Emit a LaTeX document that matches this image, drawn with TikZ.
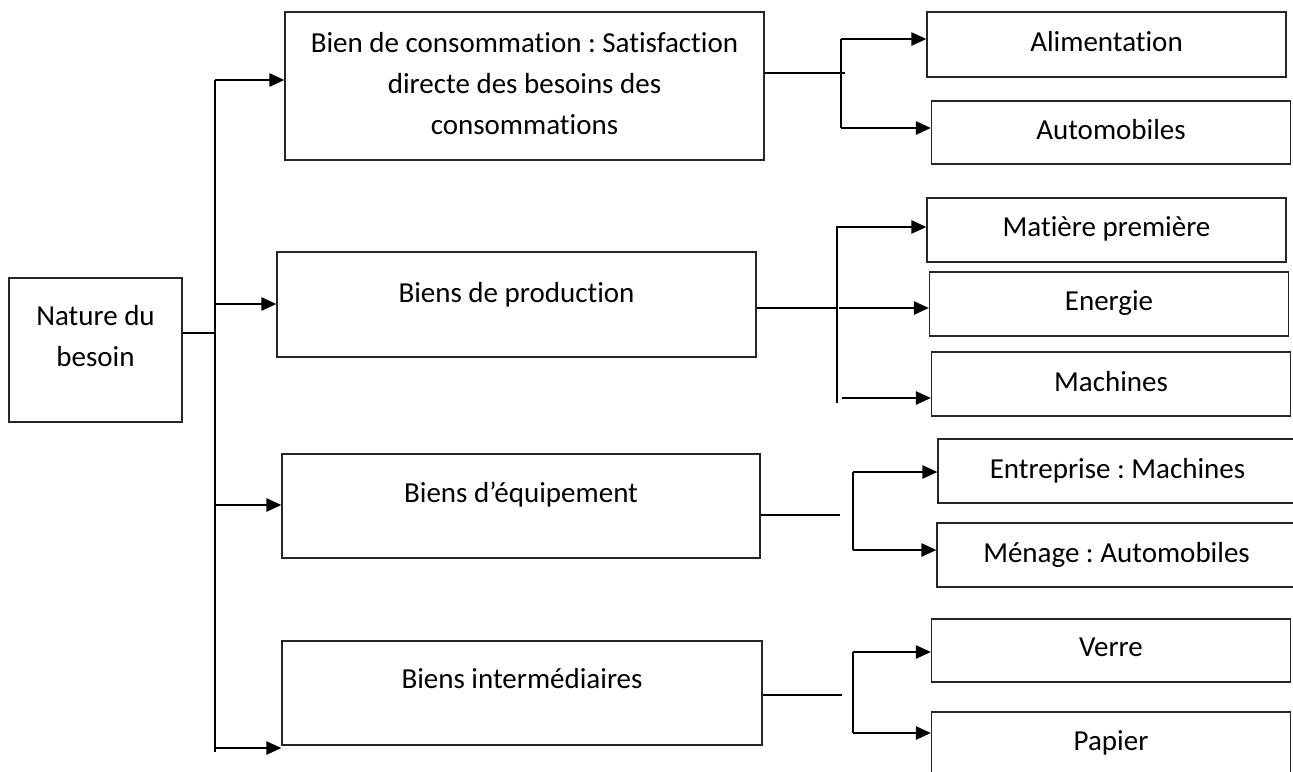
\documentclass[tikz,border=0pt]{standalone}
\usepackage{fontspec}
\setmainfont{Carlito}[Ligatures=NoCommon]
\usepackage{tikz}
\usetikzlibrary{arrows.meta, positioning}
\frenchspacing
\tikzset{
    box/.style = {
        rectangle,
        draw=black!85,
        line width=0.7pt,
        align=center,
        inner sep=2pt,
        font=\fontsize{16.5}{23.5}\selectfont
    },
    sub/.style = {
        box,
        minimum width=7.18cm,
        minimum height=1.28cm,
        text depth=0.12cm
    },
    line/.style = {
        draw,
        line width=1pt
    },
    arr/.style = {
        draw,
        line width=1.4pt,
        -{Triangle[length=0.3cm, width=0.26cm]}
    }
}

\begin{document}
\begin{tikzpicture}[
    x=0.02cm, y=-0.02cm
]
\useasboundingbox (0,0) rectangle (1293,771);
\clip (0,0) rectangle (1293,771);

% Main node
\node [box, minimum width=3.46cm, minimum height=2.88cm, text depth=0.56cm] (nat) at (95.5,350) {Nature du\\besoin};

% Goods
\node [box, minimum width=9.58cm, minimum height=2.96cm, text depth=0.1cm] (cons) at (524.5,86) {Bien de consommation : Satisfaction\\directe des besoins des\\consommations};
\node [box, minimum width=9.58cm, minimum height=2.1cm, text depth=0.5cm] (prod) at (516.5,304.5) {Biens de production};
\node [box, minimum width=9.56cm, minimum height=2.08cm, text depth=0.56cm] (equip) at (521,506) {Biens d’équipement};
\node [box, minimum width=9.6cm, minimum height=2.08cm, text depth=0.6cm] (inter) at (522,693) {Biens intermédiaires};

% Trunk
\coordinate (t1) at (215,80);
\coordinate (t2) at (215,304);
\coordinate (t3) at (215,505);
\coordinate (t4) at (215,748);
\draw [line] ([yshift=0.34cm]nat.east) -- ++(31,0);
\draw [line, line width=1.4pt] (t1) -- ([yshift=-0.08cm]t4);
\draw [arr] (t1) -- (t1 -| cons.west);
\draw [arr] (t2) -- (t2 -| prod.west);
\draw [arr] (t3) -- (t3 -| equip.west);
\draw [arr] (t4) -- (t4 -| inter.west);

% Consumption branch
\node [sub, minimum height=1.3cm] (alim) at (1106.5,44.5) {Alimentation};
\node [sub, minimum height=1.26cm] (auto) at (1111,132.5) {Automobiles};
\coordinate (c1) at (841,39);
\coordinate (c2) at (841,128);
\draw [line] ([yshift=0.26cm]cons.east) -- ++(80,0);
\draw [line, line width=1.4pt] (c1) -- (c2);
\draw [arr] (c1) -- (c1 -| alim.west);
\draw [arr] (c2) -- (c2 -| auto.west);

% Production branch
\node [sub] (mat) at (1106.5,230) {Matière première};
\node [sub] (ener) at (1109,304) {Energie};
\node [sub] (mach) at (1111,384) {Machines};
\coordinate (p1) at (837,227);
\coordinate (p2) at (837,308);
\coordinate (p3) at (837,398);
\draw [line] (prod.east |- p2) -- (p2);
\draw [line, line width=1.4pt] ([yshift=0.02cm]p1) -- ([yshift=-0.1cm]p3);
\draw [arr] (p1) -- (p1 -| mat.west);
\draw [arr] ([xshift=0.04cm]p2) -- (p2 -| ener.west);
\draw [arr] ([xshift=0.1cm]p3) -- (p3 -| mach.west);

% Equipment branch
\node [sub] (entr) at (1117.5,471) {Entreprise : Machines};
\node [sub] (men) at (1116.5,555) {Ménage : Automobiles};
\coordinate (e1) at (853,472);
\coordinate (e2) at (853,550);
\draw [line] (equip.east |- 0,515) -- ++(79,0);
\draw [line, line width=1.4pt] (e1) -- (e2);
\draw [arr] (e1) -- (e1 -| entr.west);
\draw [arr] (e2) -- (e2 -| men.west);

% Intermediate branch
\node [sub, minimum height=1.26cm] (verre) at (1111,650.5) {Verre};
\node [sub] (pap) at (1111,744) {Papier};
\coordinate (i1) at (853,652);
\coordinate (i2) at (853,733);
\draw [line] (inter.east |- 0,695) -- ++(79,0);
\draw [line, line width=1.4pt] (i1) -- (i2);
\draw [arr] (i1) -- (i1 -| verre.west);
\draw [arr] (i2) -- (i2 -| pap.west);

\end{tikzpicture}
\end{document}
